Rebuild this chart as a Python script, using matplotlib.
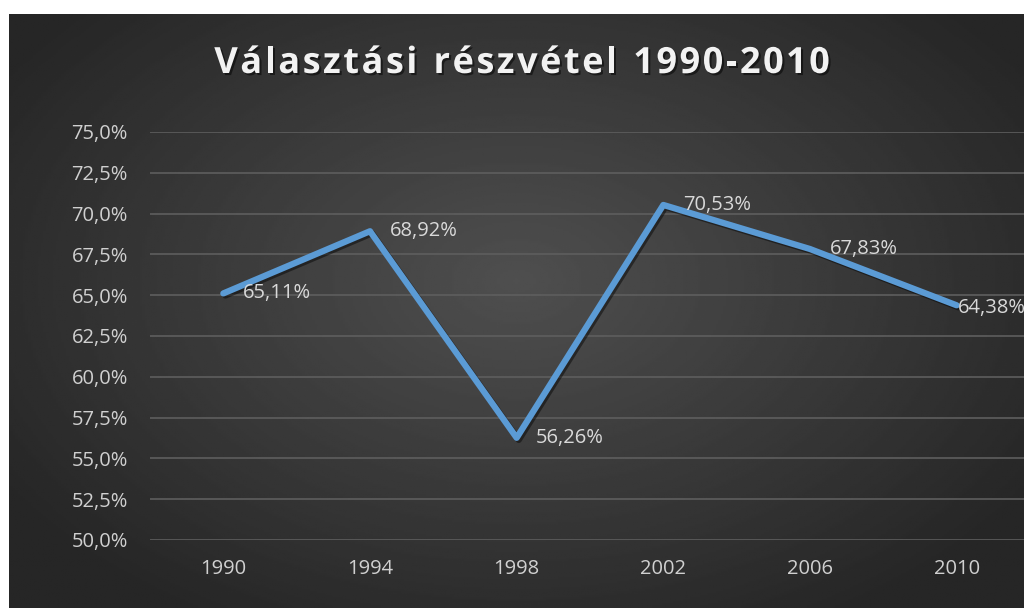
import matplotlib.pyplot as plt
import matplotlib.patheffects as pe
import numpy as np

# data
years = ['1990', '1994', '1998', '2002', '2006', '2010']
turnout = [65.11, 68.92, 56.26, 70.53, 67.83, 64.38]
yticks = [50.0, 52.5, 55.0, 57.5, 60.0, 62.5, 65.0, 67.5, 70.0, 72.5, 75.0]
title = 'Választási részvétel 1990-2010'

W, H = 1024, 608
fig = plt.figure(figsize=(W / 100, H / 100), dpi=100)
fig.patch.set_facecolor('white')

# dark radial gradient background
bg = fig.add_axes([9 / W, 0, 1 - 9 / W, (H - 14) / H], zorder=-1)
xx, yy = np.meshgrid(np.linspace(-1, 1, 400), np.linspace(-1, 1, 300))
r = np.sqrt(((xx - 0.0) / 1.0) ** 2 + ((yy + 0.1) / 1.1) ** 2)
r = np.clip(r, 0, 1.2) / 1.2
grad = 0.31 - (0.31 - 0.15) * r
bg.imshow(grad, cmap='gray', vmin=0, vmax=1, aspect='auto', extent=[0, 1, 0, 1])
bg.axis('off')

ax = fig.add_axes([150 / W, 1 - 540 / H, (1030 - 150) / W, (540 - 132) / H])
ax.set_facecolor('none')
x = np.arange(len(years))

ax.plot(x, turnout, color='#5B9BD5', lw=4.5, solid_joinstyle='round',
        solid_capstyle='round',
        path_effects=[pe.SimpleLineShadow(offset=(1.5, -1.5), shadow_color='black', alpha=0.45),
                      pe.Normal()])

# last label sits tight to its point and runs off the edge, as in the original
for i, v in enumerate(turnout):
    off = (14, 0) if i < len(turnout) - 1 else (1, -2)
    ax.annotate(f'{v:.2f}%'.replace('.', ','), (i, v), xytext=off,
                textcoords='offset points', ha='left', va='center',
                fontsize=14.5, color='#d9d9d9', family='Open Sans',
                annotation_clip=False)

ax.set_xlim(-0.5, len(years) - 0.5)
ax.set_ylim(50, 75)
ax.set_xticks(x)
ax.set_xticklabels(years)
ax.set_yticks(yticks)
ax.set_yticklabels([f'{t:.1f}%'.replace('.', ',') for t in yticks])
ax.grid(axis='y', color='#5e5e5e', lw=1.2)
ax.set_axisbelow(True)
for s in ax.spines.values():
    s.set_visible(False)
ax.tick_params(length=0, colors='#d0d0d0', labelsize=14.5)
ax.tick_params(axis='y', pad=16)
ax.tick_params(axis='x', pad=14)
for lab in ax.get_xticklabels() + ax.get_yticklabels():
    lab.set_family('Open Sans')

# title with letter spacing, placed char by char
fig.canvas.draw()
renderer = fig.canvas.get_renderer()
tkw = dict(fontsize=26, fontweight='bold', color='#f2f2f2', family='Open Sans',
           va='baseline', ha='left',
           path_effects=[pe.withSimplePatchShadow(offset=(1.5, -1.5),
                                                  shadow_rgbFace='black', alpha=0.5)])
widths = []
for ch in title:
    t = fig.text(0, 0, ch if ch != ' ' else 'i', **tkw)
    widths.append(t.get_window_extent(renderer).width)
    t.remove()
spacing = 2.5
total = sum(widths) + spacing * (len(title) - 1)
xpos = 522 - total / 2
for ch, w in zip(title, widths):
    if ch != ' ':
        fig.text(xpos / W, 1 - 73 / H, ch, **tkw)
    xpos += w + spacing

fig.savefig('out.png', dpi=100)
